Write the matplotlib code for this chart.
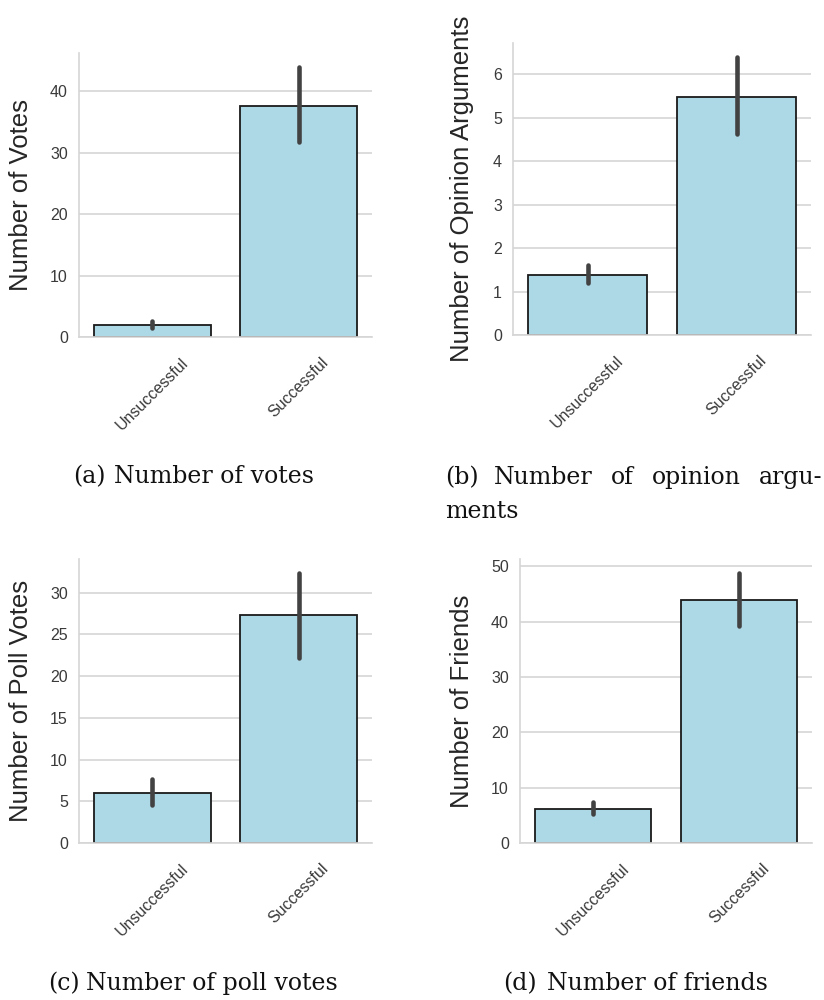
import matplotlib
matplotlib.use("Agg")
from matplotlib import pyplot as plt

categories = ["Unsuccessful", "Successful"]

votes_mean = [1.9, 37.5]
votes_low = [1.5, 31.7]
votes_high = [2.6, 44.0]

opinion_mean = [1.39, 5.47]
opinion_low = [1.19, 4.62]
opinion_high = [1.60, 6.40]

poll_mean = [6.0, 27.3]
poll_low = [4.6, 22.2]
poll_high = [7.7, 32.4]

friends_mean = [6.2, 44.0]
friends_low = [5.3, 39.3]
friends_high = [7.5, 48.9]

votes_ticks = [0, 10, 20, 30, 40]
opinion_ticks = [0, 1, 2, 3, 4, 5, 6]
poll_ticks = [0, 5, 10, 15, 20, 25, 30]
friends_ticks = [0, 10, 20, 30, 40, 50]

W, H = 824, 1000
GRID = "#d5d5d5"


def px_rect(left, top, right, bottom):
    return [left / W, 1 - bottom / H, (right - left) / W, (bottom - top) / H]


def draw_panel(fig, rect, means, lows, highs, yticks, ylabel, label_x):
    ax = fig.add_axes(rect)
    xs = list(range(len(categories)))
    ax.bar(xs, means, width=0.8, color="lightblue", edgecolor="#1a1a1a",
           linewidth=1.3, zorder=2)
    for x, lo, hi in zip(xs, lows, highs):
        ax.plot([x, x], [lo, hi], color="#424242", lw=3.3,
                solid_capstyle="round", zorder=3)
    ax.set_xlim(-0.5, 1.5)
    ax.set_ylim(bottom=0)
    ax.set_yticks(yticks)
    ax.set_xticks(xs)
    ax.set_xticklabels(categories, rotation=45, ha="center")
    ax.set_axisbelow(True)
    ax.grid(axis="y", color=GRID, linewidth=1.2)
    ax.grid(axis="x", visible=False)
    for side in ("top", "right"):
        ax.spines[side].set_visible(False)
    for side in ("left", "bottom"):
        ax.spines[side].set_color(GRID)
        ax.spines[side].set_linewidth(1.2)
    ax.tick_params(axis="both", length=0, labelsize=11.5, labelcolor="#3a3a3a")
    ax.tick_params(axis="y", pad=8)
    ax.tick_params(axis="x", pad=13)
    ax.set_ylabel(ylabel, fontsize=18.5, color="#262626")
    ax.yaxis.set_label_coords(label_x, 0.5)
    return ax


plt.rcParams["font.family"] = ["Liberation Sans", "DejaVu Sans"]

fig = plt.figure(figsize=(W / 100, H / 100), dpi=100)
fig.patch.set_facecolor("white")

draw_panel(fig, px_rect(79, 53, 372, 337), votes_mean, votes_low, votes_high,
           votes_ticks, "Number of Votes", -0.157)
draw_panel(fig, px_rect(513, 43, 811, 335), opinion_mean, opinion_low, opinion_high,
           opinion_ticks, "Number of Opinion Arguments", -0.131)
draw_panel(fig, px_rect(79, 559, 372, 843), poll_mean, poll_low, poll_high,
           poll_ticks, "Number of Poll Votes", -0.157)
draw_panel(fig, px_rect(520, 559, 812, 843), friends_mean, friends_low, friends_high,
           friends_ticks, "Number of Friends", -0.158)

# captions (subfigure style), placed word by word
cap = dict(family="DejaVu Serif", fontsize=17, color="#111111", va="baseline", ha="left")
captions = [
    ("(a)", 73, 483), ("Number of votes", 114, 483),
    ("(b)", 445, 484), ("Number", 494, 484), ("of", 611, 484),
    ("opinion", 652, 484), ("argu-", 759, 484), ("ments", 445, 518),
    ("(c)", 48, 990), ("Number of poll votes", 86, 990),
    ("(d)", 503, 990), ("Number of friends", 547, 990),
]
for text, x, y in captions:
    fig.text(x / W, 1 - y / H, text, **cap)

fig.savefig("out.png", dpi=100)
